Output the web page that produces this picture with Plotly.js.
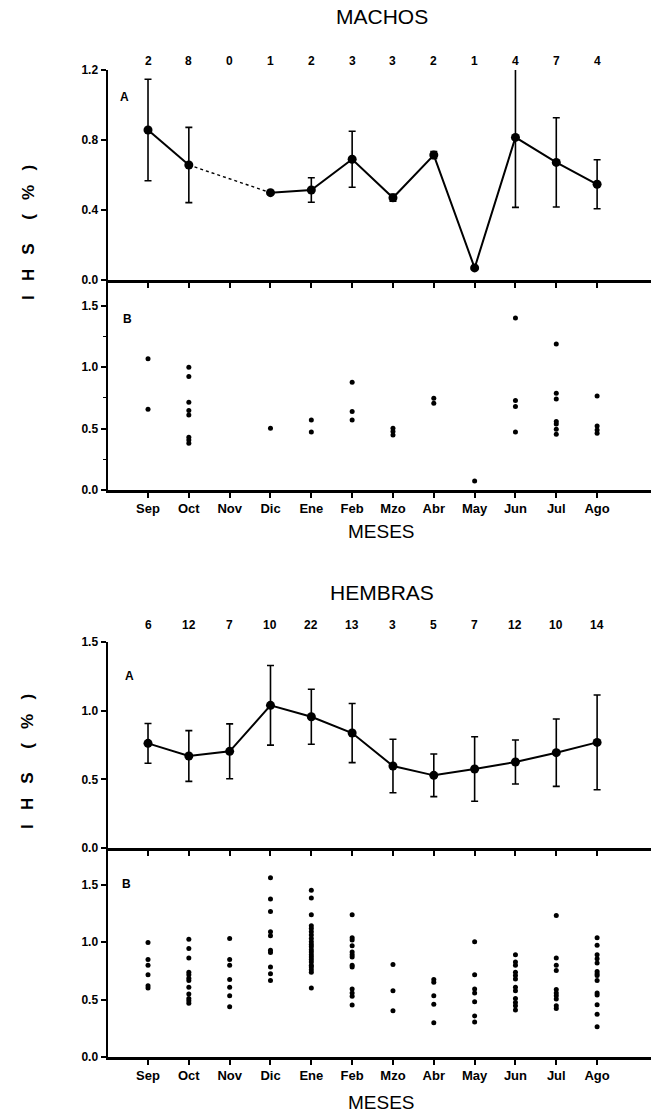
<!DOCTYPE html>
<html>
<head>
<meta charset="utf-8">
<script src="https://cdn.plot.ly/plotly-3.0.1.min.js"></script>
<style>html,body{margin:0;padding:0;background:#fff}#chart{width:651px;height:1116px}</style>
</head>
<body>
<div id="chart"></div>
<script>
// ---------- DATA ----------
const months = ['Sep','Oct','Nov','Dic','Ene','Feb','Mzo','Abr','May','Jun','Jul','Ago'];

const nMachos = [2, 8, 0, 1, 2, 3, 3, 2, 1, 4, 7, 4];
const meanMachos = [0.857, 0.657, null, 0.499, 0.514, 0.69, 0.47, 0.714, 0.069, 0.815, 0.672, 0.547];
const errMachos  = [0.29, 0.215, null, null, 0.07, 0.16, 0.02, 0.02, null, 0.40, 0.255, 0.14];
const ptsMachos = [
  [1.068, 0.658],
  [1.0, 0.924, 0.715, 0.647, 0.61, 0.43, 0.408, 0.38],
  [],
  [0.503],
  [0.571, 0.473],
  [0.878, 0.639, 0.571],
  [0.503, 0.476, 0.448],
  [0.747, 0.707],
  [0.073],
  [1.40, 0.728, 0.679, 0.473],
  [1.188, 0.788, 0.742, 0.557, 0.538, 0.495, 0.454],
  [0.766, 0.522, 0.489, 0.462]
];

const nHembras = [6, 12, 7, 10, 22, 13, 3, 5, 7, 12, 10, 14];
const meanHembras = [0.762, 0.670, 0.704, 1.039, 0.956, 0.837, 0.597, 0.529, 0.575, 0.626, 0.694, 0.769];
const errHembras  = [0.145, 0.185, 0.20, 0.29, 0.20, 0.215, 0.195, 0.155, 0.235, 0.16, 0.245, 0.345];
const ptsHembras = [
  [0.997, 0.85, 0.80, 0.716, 0.62, 0.60],
  [1.026, 0.944, 0.862, 0.739, 0.716, 0.686, 0.666, 0.607, 0.548, 0.51, 0.49, 0.469],
  [1.032, 0.85, 0.80, 0.674, 0.607, 0.534, 0.437],
  [1.56, 1.375, 1.267, 1.09, 1.056, 0.93, 0.909, 0.783, 0.724, 0.666],
  [1.452, 1.384, 1.238, 1.144, 1.12, 1.09, 1.062, 1.032, 1.003, 0.979, 0.959, 0.935, 0.915, 0.891, 0.871, 0.85, 0.827, 0.80, 0.783, 0.76, 0.739, 0.601],
  [1.238, 1.038, 1.018, 0.968, 0.915, 0.891, 0.871, 0.80, 0.783, 0.592, 0.557, 0.528, 0.452],
  [0.806, 0.578, 0.402],
  [0.674, 0.651, 0.534, 0.46, 0.299],
  [1.003, 0.716, 0.592, 0.557, 0.481, 0.358, 0.305],
  [0.891, 0.827, 0.798, 0.739, 0.71, 0.68, 0.607, 0.578, 0.51, 0.475, 0.446, 0.41],
  [1.232, 0.862, 0.798, 0.754, 0.587, 0.557, 0.534, 0.504, 0.446, 0.422],
  [1.038, 0.974, 0.891, 0.856, 0.818, 0.745, 0.724, 0.71, 0.666, 0.557, 0.54, 0.455, 0.372, 0.264]
];

// ---------- HELPERS ----------
const H = 1116, W = 651, LM = 108;
const FONT = 'Liberation Sans, Arial, Helvetica, sans-serif';
const py = p => 1 - p / H;
const px = p => (p - LM) / (W - LM);

function flatten(pts) {
  const xs = [], ys = [];
  pts.forEach((arr, i) => arr.forEach(v => { xs.push(months[i]); ys.push(v); }));
  return {xs, ys};
}

function meanTraces(mean, err, xa, ya, dottedGap) {
  const tr = [];
  if (dottedGap) {
    tr.push({
      x: [months[1], months[3]], y: [mean[1], mean[3]],
      xaxis: xa, yaxis: ya, mode: 'lines', type: 'scatter',
      line: {color: '#000', width: 1.4, dash: 'dot'}, hoverinfo: 'skip'
    });
  }
  tr.push({
    x: months, y: mean, xaxis: xa, yaxis: ya, type: 'scatter',
    mode: 'lines+markers', connectgaps: false,
    line: {color: '#000', width: 2},
    marker: {color: '#000', size: 9},
    error_y: {type: 'data', array: err, visible: true, color: '#000', thickness: 1.6, width: 3.5}
  });
  return tr;
}

function ptsTrace(pts, xa, ya) {
  const f = flatten(pts);
  return {x: f.xs, y: f.ys, xaxis: xa, yaxis: ya, type: 'scatter', mode: 'markers',
          marker: {color: '#000', size: 5}};
}

const data = [
  ...meanTraces(meanMachos, errMachos, 'x', 'y', true),
  ptsTrace(ptsMachos, 'x2', 'y2'),
  ...meanTraces(meanHembras, errHembras, 'x3', 'y3', false),
  ptsTrace(ptsHembras, 'x4', 'y4')
];

const tickFont = {family: FONT, size: 12, color: '#000', weight: 'bold'};

function xax(anchor, showLabels) {
  return {
    anchor: anchor, domain: [0, 1], type: 'category',
    categoryorder: 'array', categoryarray: months,
    range: [-0.98, 12.32], showgrid: false, zeroline: false,
    showline: true, linewidth: 2.5, linecolor: '#000',
    ticks: 'outside', ticklen: 5, tickwidth: 2, tickcolor: '#000',
    showticklabels: showLabels, tickfont: {family: FONT, size: 13, color: '#000', weight: 'bold'}
  };
}
function yax(anchor, top, bottom, range, dtick, minor) {
  const a = {
    anchor: anchor, domain: [py(bottom), py(top)], range: range, dtick: dtick, tick0: 0,
    tickformat: '.1f', showgrid: false, zeroline: false,
    showline: true, linewidth: 2.5, linecolor: '#000',
    ticks: 'outside', ticklen: 5, tickwidth: 2, tickcolor: '#000',
    tickfont: tickFont
  };
  if (minor) a.minor = {dtick: dtick / 2, ticks: 'outside', ticklen: 3, tickwidth: 1, tickcolor: '#000', showgrid: false};
  return a;
}

const annotations = [];
function txt(text, x, y, size, bold, extra) {
  annotations.push(Object.assign({
    text: text, x: x, y: y, xref: 'paper', yref: 'paper', showarrow: false,
    xanchor: 'center', yanchor: 'middle',
    font: {family: FONT, size: size, color: '#000', weight: bold ? 'bold' : 'normal'}
  }, extra || {}));
}
// titles
txt('MACHOS', px(382), py(16), 21, false);
txt('MESES', px(381), py(531), 19, false);
txt('HEMBRAS', px(382), py(592), 21, false);
txt('MESES', px(381), py(1102), 19, false);
// y titles
const sp3 = '&nbsp;&nbsp;&nbsp;', sp5 = '&nbsp;&nbsp;&nbsp;&nbsp;&nbsp;';
const yTitle = 'I' + sp3 + 'H' + sp3 + 'S' + sp5 + '(' + sp3 + '%' + sp3 + ')';
txt(yTitle, px(28), py(233), 17, true, {textangle: -90});
txt(yTitle, px(28), py(762), 17, true, {textangle: -90});
// panel letters
txt('A', px(124), py(97), 12, true);
txt('B', px(127), py(319), 12, true);
txt('A', px(129), py(676), 12, true);
txt('B', px(126), py(884), 12, true);
// sample sizes
months.forEach((m, i) => {
  annotations.push({text: String(nMachos[i]), x: m, xref: 'x', y: py(52), yref: 'paper',
    showarrow: false, font: {family: FONT, size: 12, color: '#000', weight: 'bold'}});
  annotations.push({text: String(nHembras[i]), x: m, xref: 'x3', y: py(625), yref: 'paper',
    showarrow: false, font: {family: FONT, size: 12, color: '#000', weight: 'bold'}});
});

const layout = {
  width: W, height: H, margin: {l: LM, r: 0, t: 0, b: 0},
  paper_bgcolor: '#fff', plot_bgcolor: '#fff', showlegend: false,
  font: {family: FONT, color: '#000'},
  xaxis: xax('y', false),
  xaxis2: xax('y2', true),
  xaxis3: xax('y3', false),
  xaxis4: xax('y4', true),
  yaxis: yax('x', 70, 280, [0, 1.2], 0.4, false),
  yaxis2: yax('x2', 280, 490, [0, 1.71], 0.5, true),
  yaxis3: yax('x3', 642, 848, [0, 1.5], 0.5, false),
  yaxis4: yax('x4', 848, 1057, [0, 1.82], 0.5, false),
  annotations: annotations
};

Plotly.newPlot('chart', data, layout, {displayModeBar: false, staticPlot: true});
</script>
</body>
</html>
